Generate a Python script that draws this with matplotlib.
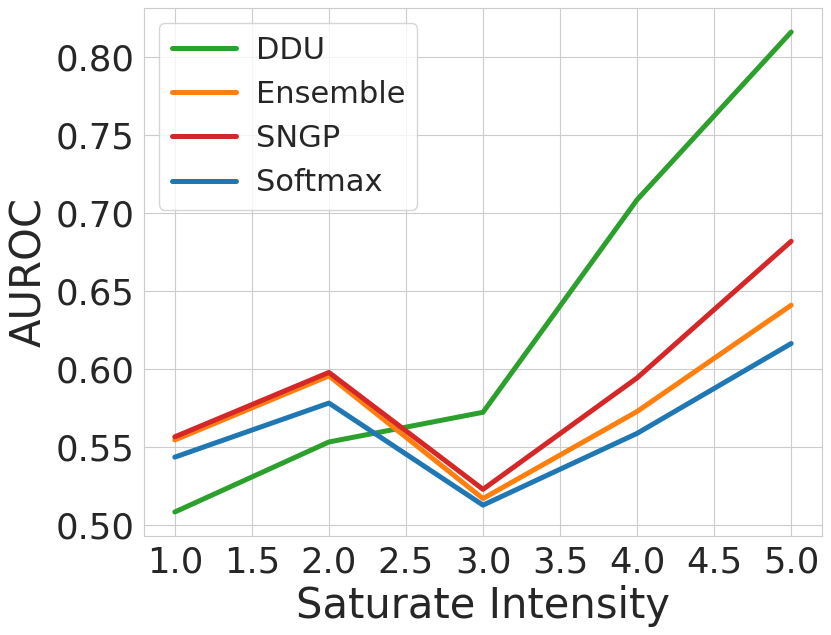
import matplotlib
matplotlib.use("Agg")
import matplotlib.pyplot as plt
import seaborn as sns

intensity = [1.0, 2.0, 3.0, 4.0, 5.0]
ddu = [0.5086, 0.5534, 0.5724, 0.7084, 0.8157]
ensemble = [0.5547, 0.5957, 0.5172, 0.5729, 0.6409]
sngp = [0.5567, 0.5979, 0.5231, 0.5944, 0.6818]
softmax = [0.5437, 0.5783, 0.5130, 0.5589, 0.6164]

sns.set_style("whitegrid")
plt.rcParams['font.family'] = ['DejaVu Sans']

fig = plt.figure(figsize=(8.31, 6.35), dpi=100)
ax = fig.add_axes([144/831, 1-536/635, (822-144)/831, (536-8)/635])

lw = 3.6
ax.plot(intensity, ddu, color='#2ca02c', lw=lw, label='DDU')
ax.plot(intensity, ensemble, color='#ff7f0e', lw=lw, label='Ensemble')
ax.plot(intensity, sngp, color='#d62728', lw=lw, label='SNGP')
ax.plot(intensity, softmax, color='#1f77b4', lw=lw, label='Softmax')

ax.set_xticks([1.0, 1.5, 2.0, 2.5, 3.0, 3.5, 4.0, 4.5, 5.0])
ax.set_yticks([0.50, 0.55, 0.60, 0.65, 0.70, 0.75, 0.80])
ax.set_yticklabels(['0.50', '0.55', '0.60', '0.65', '0.70', '0.75', '0.80'])
ax.tick_params(axis='both', labelsize=25.5, colors='#262626')
ax.set_xlabel('Saturate Intensity', fontsize=30, color='#262626')
ax.set_ylabel('AUROC', fontsize=30, color='#262626')
ax.legend(loc='upper left', fontsize=22, handlelength=2.1, handletextpad=0.65)

fig.savefig('out.png', dpi=100)
